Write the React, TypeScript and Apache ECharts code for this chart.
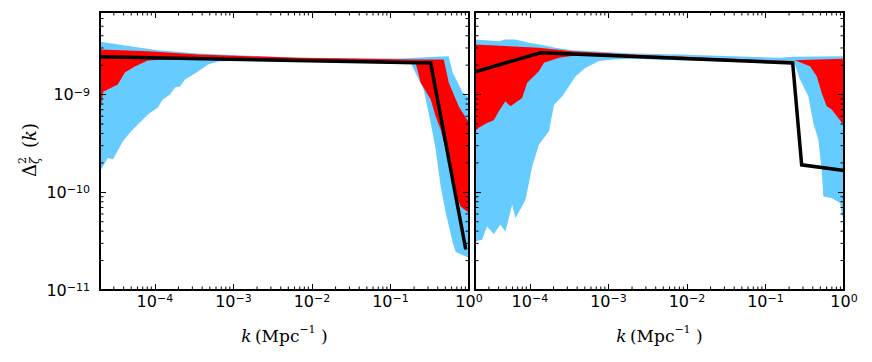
import React, { useEffect, useRef } from 'react';
import * as echarts from 'echarts';

// axis ranges
const kMin = 2e-5;
const kMax = 1;
const dMin = 1e-11;
const dMax = 7e-9;

// ---- left panel ----
const leftBlueUpper: number[][] = [
  [2.0e-5, 3.48e-9], [4.9e-5, 3.13e-9], [1.09e-4, 2.85e-9], [3.54e-4, 2.63e-9], [6.7e-3, 2.38e-9],
  [0.135, 2.34e-9], [0.44, 2.45e-9], [0.55, 2.47e-9], [0.62, 1.68e-9], [0.83, 1.05e-9], [1.0, 9.3e-10],
];
const leftBlueLower: number[][] = [
  [2.0e-5, 1.62e-10], [2.51e-5, 2.26e-10], [2.91e-5, 2.16e-10], [3.9e-5, 3.3e-10], [4.94e-5, 4.18e-10],
  [8.14e-5, 6.24e-10], [1.09e-4, 7.36e-10], [1.26e-4, 8.89e-10], [1.56e-4, 1.0e-9], [1.8e-4, 1.18e-9],
  [2.09e-4, 1.21e-9], [2.42e-4, 1.43e-9], [3.54e-4, 1.72e-9], [4.75e-4, 2.03e-9], [6.38e-4, 2.18e-9],
  [1.22e-3, 2.23e-9], [6.7e-3, 2.18e-9], [0.181, 2.1e-9], [0.265, 1.12e-9], [0.325, 5.16e-10],
  [0.377, 2.73e-10], [0.436, 1.14e-10], [0.506, 6.17e-11], [0.621, 3.03e-11], [0.678, 2.45e-11], [1.0, 2.13e-11],
];
const leftRedUpper: number[][] = [
  [2.0e-5, 2.9e-9], [8.14e-5, 2.78e-9], [3.54e-4, 2.57e-9], [6.7e-3, 2.38e-9], [0.181, 2.29e-9],
  [0.477, 2.29e-9], [0.552, 1.33e-9], [0.741, 7.53e-10], [1.0, 5.16e-10],
];
const leftRedLower: number[][] = [
  [2.0e-5, 6.7e-10], [2.2e-5, 1.07e-9], [3.37e-5, 1.27e-9], [4.14e-5, 1.68e-9], [5.55e-5, 1.94e-9],
  [8.14e-5, 2.23e-9], [1.34e-4, 2.29e-9], [6.7e-3, 2.23e-9], [0.181, 2.18e-9], [0.209, 2.13e-9],
  [0.242, 1.33e-9], [0.325, 8.89e-10], [0.377, 5.95e-10], [0.436, 4.38e-10], [0.506, 2.73e-10],
  [0.585, 1.51e-10], [0.678, 9.42e-11], [0.786, 7.1e-11], [1.0, 6.17e-11],
];
const leftLine: number[][] = [[2.0e-5, 2.44e-9], [0.325, 2.1e-9], [0.91, 2.6e-11]];

// ---- right panel ----
const rightBlueUpper: number[][] = [
  [2.0e-5, 3.66e-9], [4.02e-5, 3.52e-9], [4.88e-5, 3.66e-9], [6.55e-5, 3.66e-9], [9.71e-5, 3.39e-9],
  [1.44e-4, 3.21e-9], [2.12e-4, 3.01e-9], [3.47e-4, 2.85e-9], [9.24e-4, 2.72e-9], [2.03e-3, 2.63e-9],
  [8.07e-3, 2.57e-9], [0.153, 2.38e-9], [0.222, 2.44e-9], [1.0, 2.47e-9],
];
const rightBlueLower: number[][] = [
  [2.0e-5, 3.13e-11], [2.46e-5, 3.26e-11], [2.85e-5, 4.46e-11], [3.47e-5, 3.75e-11], [4.21e-5, 4.64e-11],
  [4.88e-5, 3.96e-11], [5.94e-5, 7.45e-11], [6.55e-5, 5.43e-11], [8.79e-5, 8.38e-11], [1.07e-4, 1.84e-10],
  [1.3e-4, 3.07e-10], [1.75e-4, 4.21e-10], [2.03e-4, 7.89e-10], [2.59e-4, 9.61e-10], [3.82e-4, 1.54e-9],
  [5.13e-4, 1.88e-9], [7.6e-4, 2.2e-9], [1.12e-3, 2.29e-9], [2.03e-3, 2.32e-9], [0.0145, 2.2e-9],
  [0.222, 2.15e-9], [0.237, 2.03e-9], [0.275, 1.43e-9], [0.351, 9.61e-10], [0.407, 5.13e-10],
  [0.471, 3.45e-10], [0.52, 1.7e-10], [0.545, 9.06e-11], [0.698, 8.72e-11], [0.891, 7.75e-11],
  [0.937, 6.12e-11], [1.0, 5.22e-11],
];
const rightRedUpper: number[][] = [
  [2.0e-5, 3.26e-9], [1.3e-4, 3.01e-9], [3.47e-4, 2.78e-9], [2.03e-3, 2.57e-9], [0.153, 2.23e-9],
  [0.222, 2.25e-9], [1.0, 2.32e-9],
];
const rightRedLower: number[][] = [
  [2.0e-5, 4.21e-10], [2.25e-5, 4.59e-10], [2.85e-5, 5.13e-10], [3.47e-5, 5.45e-10], [4.02e-5, 6.74e-10],
  [4.88e-5, 8.53e-10], [5.65e-5, 7.58e-10], [7.97e-5, 9.25e-10], [9.24e-5, 1.32e-9], [1.3e-4, 1.73e-9],
  [1.51e-4, 2.12e-9], [2.35e-4, 2.38e-9], [4.66e-4, 2.57e-9], [2.03e-3, 2.47e-9], [0.153, 2.2e-9],
  [0.237, 2.25e-9], [0.369, 1.95e-9], [0.45, 1.54e-9], [0.52, 1.04e-9], [0.603, 7.58e-10],
  [0.698, 7.02e-10], [0.848, 5.77e-10], [1.0, 4.8e-10],
];
const rightLine: number[][] = [[2.0e-5, 1.71e-9], [1.37e-4, 2.68e-9], [0.222, 2.11e-9], [0.289, 1.91e-10], [1.0, 1.67e-10]];

// minor tick positions (log axes)
const xDecades = [1e-5, 1e-4, 1e-3, 1e-2, 1e-1];
const yDecades = [1e-11, 1e-10, 1e-9];
const minorMultipliers = [2, 3, 4, 5, 6, 7, 8, 9];

const BLUE = '#66CCFF';
const RED = '#FF0000';

const TICK_FONT = 'DejaVu Sans';
const NAME_FONT = 'DejaVu Serif';

const xMinor: number[] = [];
xDecades.forEach((d) => minorMultipliers.forEach((m) => { const v = d * m; if (v > kMin * 1.0001 && v < kMax) xMinor.push(v); }));
const yMinor: number[] = [];
yDecades.forEach((d) => minorMultipliers.forEach((m) => { const v = d * m; if (v > dMin && v < dMax * 0.9999) yMinor.push(v); }));

const fmtPow = (v: number) => {
  const e = Math.log10(v);
  const r = Math.round(e);
  if (Math.abs(e - r) > 1e-6) return '';
  return `{b|10}{s|${r < 0 ? '−' + -r : r}}`;
};

const tickRich = {
  b: { fontFamily: TICK_FONT, fontSize: 16, lineHeight: 16, padding: [6, 0, 6, 0], color: '#000' },
  s: { fontFamily: TICK_FONT, fontSize: 11, lineHeight: 11, verticalAlign: 'top', color: '#000' },
};

const nameRich = {
  i: { fontFamily: NAME_FONT, fontStyle: 'italic', fontSize: 17, lineHeight: 17, padding: [8, 0, 0, 0], color: '#000' },
  r: { fontFamily: NAME_FONT, fontSize: 17, lineHeight: 17, padding: [8, 0, 0, 0], color: '#000' },
  s: { fontFamily: NAME_FONT, fontSize: 11, lineHeight: 11, verticalAlign: 'top', color: '#000' },
};

const axisLine = { show: true, onZero: false, lineStyle: { color: '#000', width: 2 } };
const axisTick = { show: true, inside: true, length: 6, lineStyle: { color: '#000', width: 1 } };

const makeX = (gridIndex: number, position: string, labels: boolean) => ({
  type: 'log', logBase: 10, gridIndex, position, min: kMin, max: kMax, z: 10,
  axisLine, axisTick, splitLine: { show: false }, minorTick: { show: false },
  axisLabel: labels
    ? { show: true, margin: 3, formatter: fmtPow, rich: tickRich, showMinLabel: true, showMaxLabel: true }
    : { show: false },
  name: labels ? '{i|k} {r|(Mpc}{s|−1}{r| )}' : '',
  nameLocation: 'middle', nameGap: 31,
  nameTextStyle: { rich: nameRich },
});

const makeY = (gridIndex: number, position: string, labels: boolean) => ({
  type: 'log', logBase: 10, gridIndex, position, min: dMin, max: dMax, z: 10,
  axisLine, axisTick, splitLine: { show: false }, minorTick: { show: false },
  axisLabel: labels
    ? { show: true, margin: 10, formatter: fmtPow, rich: tickRich, showMinLabel: true, showMaxLabel: true }
    : { show: false },
});

const band = (upper: number[][], lower: number[][], color: string, axisIdx: number, z: number) => ({
  type: 'custom', xAxisIndex: axisIdx, yAxisIndex: axisIdx, z, silent: true, clip: true,
  data: [upper[0]],
  renderItem: (_params: any, api: any) => {
    const pts = upper.map((p) => api.coord(p)).concat(lower.slice().reverse().map((p) => api.coord(p)));
    return { type: 'polygon', shape: { points: pts }, style: { fill: color, stroke: null } };
  },
});

const minorTicks = (axisIdx: number) => ({
  type: 'custom', xAxisIndex: axisIdx, yAxisIndex: axisIdx, z: 20, silent: true,
  data: [[1e-3, 1e-9]],
  renderItem: (params: any, api: any) => {
    const cs = params.coordSys;
    const top = cs.y, bottom = cs.y + cs.height, left = cs.x, right = cs.x + cs.width;
    const L = 3.5;
    const st = { stroke: '#000', lineWidth: 1 };
    const children: any[] = [];
    xMinor.forEach((v) => {
      const x = api.coord([v, dMin])[0];
      children.push({ type: 'line', shape: { x1: x, y1: bottom, x2: x, y2: bottom - L }, style: st });
      children.push({ type: 'line', shape: { x1: x, y1: top, x2: x, y2: top + L }, style: st });
    });
    yMinor.forEach((v) => {
      const y = api.coord([kMin, v])[1];
      children.push({ type: 'line', shape: { x1: left, y1: y, x2: left + L, y2: y }, style: st });
      children.push({ type: 'line', shape: { x1: right, y1: y, x2: right - L, y2: y }, style: st });
    });
    return { type: 'group', children };
  },
});

const lineSeries = (data: number[][], axisIdx: number) => ({
  type: 'line', xAxisIndex: axisIdx, yAxisIndex: axisIdx, z: 5, data,
  showSymbol: false, symbol: 'none', silent: true,
  lineStyle: { color: '#000', width: 3.5, join: 'miter' },
});

export default function App() {
  const ref = useRef<HTMLDivElement>(null);
  useEffect(() => {
    if (!ref.current) return;
    const chart = echarts.init(ref.current, undefined, { renderer: 'svg' });
    chart.setOption({
      animation: false,
      backgroundColor: '#fff',
      grid: [
        { left: 100, top: 12, width: 369, height: 278 },
        { left: 475, top: 12, width: 369, height: 278 },
      ],
      xAxis: [makeX(0, 'bottom', true), makeX(1, 'bottom', true), makeX(0, 'top', false), makeX(1, 'top', false)],
      yAxis: [makeY(0, 'left', true), makeY(1, 'left', false), makeY(0, 'right', false), makeY(1, 'right', false)],
      series: [
        band(leftBlueUpper, leftBlueLower, BLUE, 0, 1),
        band(leftRedUpper, leftRedLower, RED, 0, 2),
        lineSeries(leftLine, 0),
        minorTicks(0),
        band(rightBlueUpper, rightBlueLower, BLUE, 1, 1),
        band(rightRedUpper, rightRedLower, RED, 1, 2),
        lineSeries(rightLine, 1),
        minorTicks(1),
      ],
      graphic: [
        {
          type: 'group', x: 29, y: 151, rotation: Math.PI / 2,
          children: [
            { type: 'text', x: -26, y: 0, style: { text: 'Δ', fontFamily: NAME_FONT, fontSize: 18, fill: '#000', align: 'left', verticalAlign: 'middle' } },
            { type: 'text', x: -13, y: -7, style: { text: '2', fontFamily: NAME_FONT, fontSize: 11, fill: '#000', align: 'left', verticalAlign: 'middle' } },
            { type: 'text', x: -13, y: 6, style: { text: 'ζ', fontFamily: NAME_FONT, fontStyle: 'italic', fontSize: 12, fill: '#000', align: 'left', verticalAlign: 'middle' } },
            {
              type: 'text', x: 3, y: 0,
              style: {
                text: '{p|(}{k|k}{p|)}', align: 'left', verticalAlign: 'middle',
                rich: {
                  p: { fontFamily: NAME_FONT, fontSize: 18, fill: '#000' },
                  k: { fontFamily: NAME_FONT, fontStyle: 'italic', fontSize: 18, fill: '#000' },
                },
              },
            },
          ],
        },
      ],
    });
    return () => chart.dispose();
  }, []);
  return <div ref={ref} style={{ position: 'absolute', left: 0, top: 0, width: 872, height: 362 }} />;
}
